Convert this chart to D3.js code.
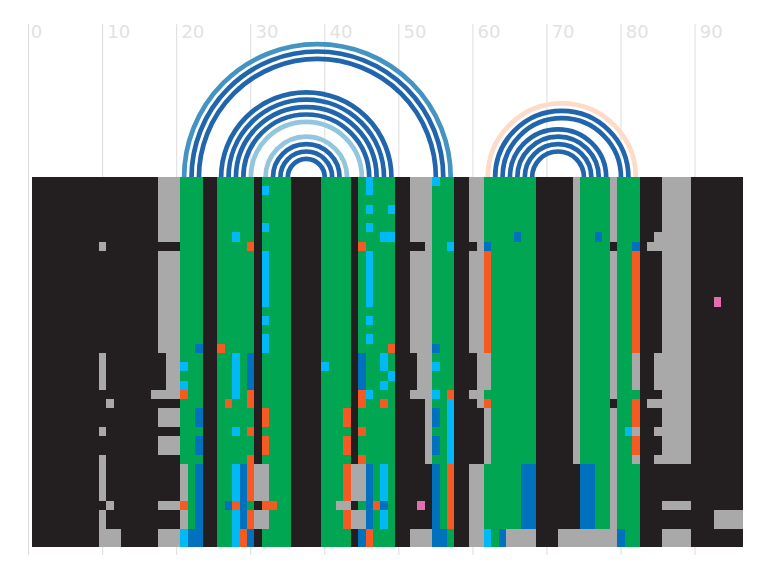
<!DOCTYPE html>
<html><head><meta charset="utf-8">
<script src="https://cdn.jsdelivr.net/npm/d3@7"></script>
<style>html,body{margin:0;padding:0;background:#fff}svg{display:block}</style>
</head><body><div id="chart"></div>
<script>
const tickValues=[0,10,20,30,40,50,60,70,80,90];
const columnCount=96, rowCount=40;
const stateCodes=['K','G','N','C','B','O','P'];
const stateColors=['#231f20','#a9a9a9','#00a651','#00b9f5','#0071bc','#f55a22','#df6fae'];
// base run of states along the columns: [firstColumn,lastColumn,state]
const baseRuns=[[1,17,'K'],[18,20,'G'],[21,23,'N'],[24,25,'K'],[26,30,'N'],[31,31,'K'],[32,35,'N'],[36,39,'K'],[40,43,'N'],[44,44,'K'],[45,49,'N'],[50,51,'K'],[52,54,'G'],[55,57,'N'],[58,59,'K'],[60,61,'G'],[62,68,'N'],[69,73,'K'],[74,74,'G'],[75,78,'N'],[79,79,'G'],[80,82,'N'],[83,85,'K'],[86,89,'G'],[90,96,'K']];
// departures from the base: [firstRow,lastRow,firstColumn,lastColumn,state]
const leftPatches=[[7,7,18,20,'K'],[19,22,18,18,'K'],[23,23,17,17,'G'],[24,24,18,20,'K'],[27,27,18,20,'K'],[30,34,18,20,'K'],[36,37,18,20,'K'],
[7,7,10,10,'G'],[19,22,10,10,'G'],[24,24,11,11,'G'],[27,27,10,10,'G'],[30,34,10,10,'G'],[35,35,11,11,'G'],[36,37,10,10,'G'],[38,39,10,12,'G'],
[20,20,21,21,'C'],[22,22,21,21,'C'],[23,23,21,21,'O'],[18,18,23,23,'B'],[25,26,23,23,'B'],[28,29,23,23,'B'],[31,34,21,21,'G'],[31,37,23,23,'B'],[35,35,21,21,'O'],[36,37,21,21,'G'],[38,39,21,21,'C'],[38,39,22,23,'B']];
const midPatches=[[18,18,26,26,'O'],[6,6,28,28,'C'],[7,7,30,30,'O'],[19,23,28,28,'C'],[19,22,30,30,'B'],[23,24,30,30,'O'],[24,24,27,27,'O'],[27,27,28,28,'C'],[27,27,30,30,'O'],[30,30,30,30,'O'],[31,39,28,28,'C'],[35,35,28,28,'O'],[31,37,29,29,'B'],[31,34,30,30,'O'],[36,37,30,30,'O'],[35,35,27,27,'B'],[38,39,29,29,'O'],[38,39,30,30,'B'],
[1,1,32,32,'C'],[5,5,32,32,'C'],[8,13,32,32,'C'],[15,15,32,32,'C'],[17,18,32,32,'C'],[25,26,32,32,'O'],[28,29,32,32,'O'],[31,34,31,32,'G'],[35,35,32,33,'O'],[36,37,31,32,'G'],[20,20,40,40,'C'],
[25,26,43,43,'O'],[28,29,43,43,'O'],[31,34,43,43,'O'],[35,35,42,43,'G'],[36,37,43,43,'O'],[7,7,45,45,'O'],[19,22,45,45,'B'],[23,24,45,45,'O'],[27,27,45,45,'O'],[30,30,45,45,'O'],[31,34,44,45,'G'],[36,37,44,45,'G'],[31,37,46,46,'B'],[38,39,45,45,'B'],[38,39,46,46,'O'],
[0,1,46,46,'C'],[3,3,46,46,'C'],[5,5,46,46,'C'],[8,13,46,46,'C'],[15,15,46,46,'C'],[17,17,46,46,'C'],[23,23,46,46,'C'],[3,3,49,49,'C'],[6,6,48,49,'C'],[18,18,49,49,'O'],[19,20,48,48,'C'],[21,21,49,49,'C'],[22,22,48,48,'C'],[24,24,48,48,'O'],[31,34,48,48,'C'],[35,35,47,47,'O'],[35,35,48,48,'B'],[36,37,48,48,'C']];
const rightPatches=[[7,7,52,53,'K'],[19,22,52,52,'K'],[24,30,52,53,'K'],[31,37,52,54,'K'],[35,35,53,53,'P'],[0,0,55,55,'C'],[7,7,57,57,'C'],[18,18,55,55,'B'],[20,20,55,55,'C'],[23,23,55,55,'C'],[25,26,55,55,'B'],[28,29,55,55,'B'],[31,37,55,55,'B'],[23,23,57,57,'O'],[24,30,57,57,'C'],[31,37,57,57,'O'],[38,39,55,56,'B'],
[7,7,60,60,'K'],[7,7,62,62,'B'],[8,18,62,62,'O'],[19,22,60,60,'K'],[19,22,62,62,'G'],[24,24,60,60,'K'],[24,24,62,62,'O'],[25,30,60,61,'K'],[25,30,62,62,'G'],[38,39,62,62,'C'],[38,39,64,64,'B'],[38,39,65,68,'G'],
[6,6,66,66,'B'],[31,37,67,68,'B'],[31,37,74,74,'K'],[6,6,77,77,'B'],[31,37,75,76,'B'],[38,39,72,79,'G'],[38,39,80,80,'B'],[7,7,79,79,'K'],[24,24,79,79,'K'],
[7,7,82,82,'B'],[8,18,82,82,'O'],[19,22,82,82,'G'],[24,26,82,82,'O'],[27,27,81,81,'C'],[27,27,82,82,'G'],[28,29,82,82,'O'],[30,30,82,82,'G'],
[6,6,85,85,'G'],[7,7,84,85,'G'],[19,22,85,85,'G'],[24,24,84,85,'G'],[27,27,85,85,'G'],[30,30,85,85,'G'],[31,34,86,89,'K'],[36,37,86,89,'K'],[13,13,93,93,'P'],[36,37,93,96,'G']];
// base pairs: [i,j,class]
const arcPairs=[[21,57,1],[22,56,0],[23,55,0],[26,49,0],[27,48,0],[28,47,0],[29,46,0],[30,45,2],[32,43,2],[33,42,0],[34,41,0],[35,40,0],[62,82,3],[63,81,0],[64,80,0],[65,78,0],[66,77,0],[67,76,0],[68,75,0]];
const arcColors=['#2166ac','#4393c3','#92c5de','#fddbc7'];

const grid=d3.range(rowCount).map(()=>new Array(columnCount+1).fill('K'));
grid.forEach(row=>baseRuns.forEach(([a,b,s])=>{for(let c=a;c<=b;c++)row[c]=s;}));
[...leftPatches,...midPatches,...rightPatches].forEach(([r0,r1,c0,c1,s])=>{
  for(let r=r0;r<=r1;r++)for(let c=c0;c<=c1;c++)grid[r][c]=s;
});
const cells=[];
grid.forEach((row,r)=>{for(let c=1;c<=columnCount;c++)cells.push({r,c,s:row[c]});});

const W=768,H=576;
const x=d3.scaleLinear().domain([0,90]).range([28.6,695.05]);
const y=d3.scaleLinear().domain([0,rowCount]).range([176.95,547.19]);
const color=d3.scaleOrdinal(stateCodes,stateColors);
const svg=d3.select('#chart').append('svg').attr('width',W).attr('height',H);

svg.append('g').selectAll('line').data(tickValues).join('line')
  .attr('x1',d=>x(d)).attr('x2',d=>x(d)).attr('y1',24).attr('y2',555)
  .attr('stroke','#dcdcdc').attr('stroke-width',1);
svg.append('g').selectAll('text').data(tickValues).join('text')
  .attr('x',d=>x(d)+(d===0?2.2:4.7)).attr('y',38).text(d=>d)
  .attr('font-family','DejaVu Sans').attr('font-size',18).attr('fill','#e2e2e2');

svg.append('g').attr('fill','none').attr('stroke-width',4.7).selectAll('path')
  .data(arcPairs).join('path')
  .attr('d',([a,b])=>{
    const p=d3.path();
    const cx=(x(a)+x(b))/2, rad=(x(b)-x(a))/2;
    p.arc(cx,y(0)+0.5,rad,Math.PI,0);
    return p.toString();
  })
  .attr('stroke',d=>arcColors[d[2]]);

svg.append('g').attr('shape-rendering','crispEdges').selectAll('rect').data(cells).join('rect')
  .attr('x',d=>Math.round(x(d.c-0.5)))
  .attr('y',d=>Math.round(y(d.r)))
  .attr('width',d=>Math.round(x(d.c+0.5))-Math.round(x(d.c-0.5)))
  .attr('height',d=>Math.round(y(d.r+1))-Math.round(y(d.r)))
  .attr('fill',d=>color(d.s));
</script></body></html>
